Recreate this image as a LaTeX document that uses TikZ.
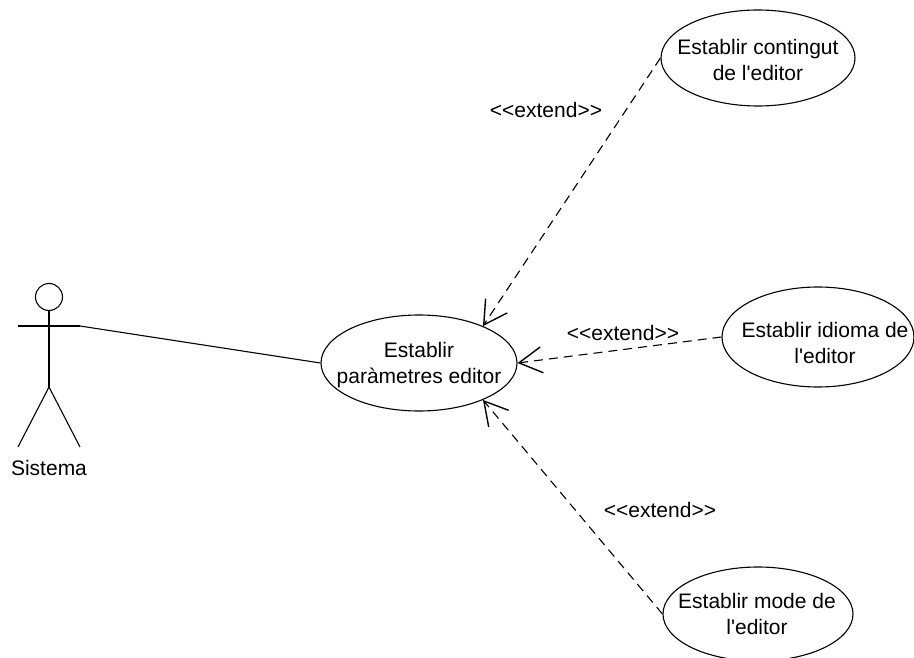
\documentclass[tikz,border=0pt]{standalone}
\usepackage{fontspec}
\newfontfamily\ucfont{Liberation Sans}
\usetikzlibrary{shapes.geometric,arrows.meta}
\tikzset{
  usecase/.style={ellipse, draw, line width=1.1pt, inner sep=0pt},
  txt/.style={font=\ucfont\fontsize{21pt}{26pt}\selectfont, align=center, inner sep=0pt},
  assoc/.style={line width=1.1pt},
  extends/.style={line width=1.1pt, dash pattern=on 9pt off 6pt,
    -{Straight Barb[length=23pt, width=26pt, line width=1.4pt]}},
  stick/.style={line width=1.1pt}
}
\begin{document}
\begin{tikzpicture}[x=1pt, y=-1pt]
  \useasboundingbox (0,0) rectangle (914,658);
  \fill[white] (0,0) rectangle (914,658);

  % actor
  \node[circle, draw, stick, minimum size=27pt, inner sep=0pt] (head) at (49,297) {};
  \coordinate (armL) at (18,326);
  \coordinate (armR) at (80,326);
  \coordinate (hip) at (49,387);
  \coordinate (footL) at (18,447);
  \coordinate (footR) at (80,447);
  \draw[stick] (armL) -- (armR);
  \draw[stick] (head.south) -- (hip);
  \draw[stick] (footL) -- (hip) -- (footR);
  \node[txt] (actorName) at (49,468) {Sistema};

  % use cases
  \node[usecase, minimum width=196pt, minimum height=96pt] (main) at (419,363) {};
  \node[txt] (mainT) at (419,365) {Establir\\paràmetres editor};

  \node[usecase, minimum width=194pt, minimum height=96pt] (cont) at (758,58) {};
  \node[txt] (contT) at (758,60) {Establir contingut\\de l'editor};

  \node[usecase, minimum width=192pt, minimum height=100pt] (idioma) at (818,337) {};
  \node[txt] (idiomaT) at (825,343) {Establir idioma de\\l'editor};

  \node[usecase, minimum width=190pt, minimum height=94pt] (mode) at (758,614) {};
  \node[txt] (modeT) at (757,614) {Establir mode de\\l'editor};

  % association
  \draw[assoc] (armR) -- (main.west);

  % extend relations
  \draw[extends] (cont.west) -- (main.30);
  \draw[extends] (idioma.west) -- (main.east);
  \draw[extends] (mode.west) -- (main.-30);

  \node[txt] (ext1) at (546,110) {<<extend>>};
  \node[txt] (ext2) at (623,333) {<<extend>>};
  \node[txt] (ext3) at (660,510) {<<extend>>};
\end{tikzpicture}
\end{document}
